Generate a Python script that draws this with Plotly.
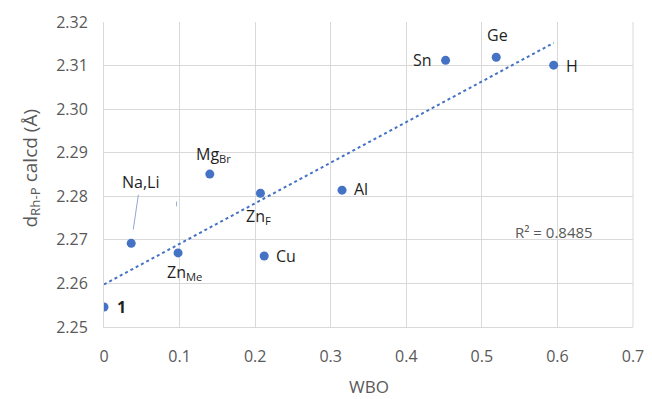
import numpy as np
import plotly.graph_objects as go

labels = ["1", "Na,Li", "Zn<sub>Me</sub>", "Mg<sub>Br</sub>", "Zn<sub>F</sub>", "Cu", "Al", "Sn", "Ge", "H"]
wbo = [0.0, 0.036, 0.098, 0.14, 0.207, 0.212, 0.315, 0.452, 0.519, 0.595]
d_rhp = [2.2546, 2.2692, 2.2670, 2.2851, 2.2807, 2.2663, 2.2814, 2.3112, 2.3119, 2.3101]
x_ticks = [0, 0.1, 0.2, 0.3, 0.4, 0.5, 0.6, 0.7]
y_ticks = [2.25, 2.26, 2.27, 2.28, 2.29, 2.30, 2.31, 2.32]
r2_text = "R² = 0.8485"
x_title = "WBO"
y_title = "d<sub>Rh-P</sub> calcd (Å)"

# label offsets in pixels (ax, ay) relative to each point, and anchors
label_pos = {
    "1": (11, 0, "left"),
    "Zn<sub>Me</sub>": (6, 20, "center"),
    "Mg<sub>Br</sub>": (4, -20, "center"),
    "Zn<sub>F</sub>": (-2, 23, "center"),
    "Cu": (10, 0, "left"),
    "Al": (10, -1, "left"),
    "Sn": (-12, 0, "right"),
    "Ge": (1, -22, "center"),
    "H": (10, 1, "left"),
}

FAM = "Open Sans, Liberation Sans, sans-serif"
blue = "#4472C4"
fig = go.Figure()

coef = np.polyfit(wbo, d_rhp, 1)
xt = np.array([0.0, max(wbo)])
fig.add_trace(go.Scatter(x=xt, y=np.polyval(coef, xt), mode="lines",
                         line=dict(color=blue, width=2, dash="dot"),
                         hoverinfo="skip", showlegend=False))
fig.add_trace(go.Scatter(x=wbo, y=d_rhp, mode="markers",
                         marker=dict(color=blue, size=9),
                         showlegend=False))

font_lbl = dict(family=FAM, size=16, color="#1f1f1f")
for lab, xv, yv in zip(labels, wbo, d_rhp):
    if lab == "Na,Li":
        fig.add_annotation(x=xv, y=yv, xref="x", yref="y", text=lab, showarrow=True,
                           ax=9, ay=-61, arrowhead=0, arrowwidth=1, arrowcolor="#8FA9D0",
                           standoff=14, font=font_lbl)
        continue
    ax, ay, anc = label_pos[lab]
    txt = "<b>1</b>" if lab == "1" else lab
    fig.add_annotation(x=xv, y=yv, xref="x", yref="y", text=txt, showarrow=False,
                       xshift=ax, yshift=-ay, xanchor=anc, font=font_lbl)

fig.add_annotation(x=0.595, y=2.2717, xref="x", yref="y", text=r2_text, showarrow=False,
                   font=dict(family=FAM, size=15, color="#595959"))

fig.add_shape(type="line", x0=0.096, x1=0.096, y0=2.2777, y1=2.2788, xref="x", yref="y",
              line=dict(color="#9aaed0", width=1))

# axis titles
fig.add_annotation(x=0.5, y=0, xref="paper", yref="paper", text=x_title, showarrow=False,
                   yshift=-59, yanchor="middle",
                   font=dict(family=FAM, size=17, color="#595959"))
fig.add_annotation(x=0, y=0.5, xref="paper", yref="paper", text=y_title, showarrow=False,
                   xshift=-74, yshift=6, textangle=-90, xanchor="center", yanchor="middle",
                   font=dict(family=FAM, size=19, color="#595959"))

tick_font = dict(family=FAM, size=16, color="#595959")
fig.update_xaxes(range=[0, 0.7], tickvals=x_ticks, ticktext=[f"{v:g}" for v in x_ticks],
                 showgrid=True, gridcolor="#D9D9D9", gridwidth=1, zeroline=False,
                 showline=True, linecolor="#D9D9D9", ticks="", automargin=False,
                 tickfont=tick_font, ticklabelstandoff=15)
fig.update_yaxes(range=[2.25, 2.32], tickvals=y_ticks, ticktext=[f"{v:.2f}" for v in y_ticks],
                 showgrid=True, gridcolor="#D9D9D9", gridwidth=1, zeroline=False,
                 showline=True, linecolor="#D9D9D9", ticks="", automargin=False,
                 tickfont=tick_font, ticklabelstandoff=12)

fig.update_layout(width=644, height=391, margin=dict(l=96, r=19, t=14, b=72),
                  plot_bgcolor="white", paper_bgcolor="white")
fig.add_shape(type="line", xref="paper", yref="paper", x0=1, x1=1, y0=0, y1=1,
              line=dict(color="#D9D9D9", width=1))
fig.write_html("out.html")
